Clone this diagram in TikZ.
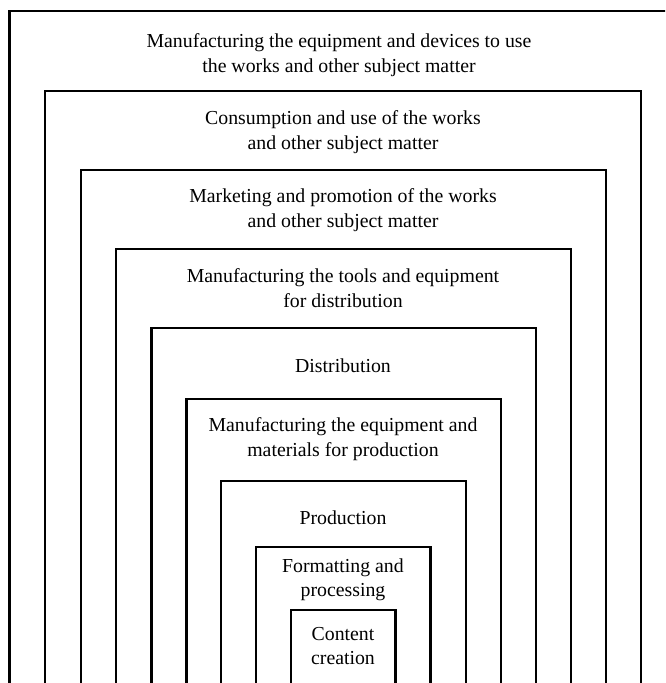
\documentclass[tikz,border=0pt]{standalone}
\usepackage{fontspec}
\setmainfont{Liberation Serif}
\begin{document}
\begin{tikzpicture}[x=1pt,y=-1pt,
  frame/.style={line width=2.6pt,line join=miter},
  lbl/.style={align=center,inner sep=0pt,font=\fontsize{19.8}{24.5}\selectfont}]
\useasboundingbox (0,0) rectangle (665,683);
\clip (0,0) rectangle (665,683);
\fill[white] (0,0) rectangle (665,683);
% nested open-bottom frames: left, top, right
\foreach \l/\t/\r in {9.5/11/676.5, 45/91/641, 81/170/606, 116/249/571, 151.5/328/536, 186.5/399/501, 221/481/466, 256/547/430.5, 291/610/395.5}{
  \draw[frame] (\l,700) -- (\l,\t) -- (\r,\t) -- (\r,700);
}
\node[lbl] (t1) at (339,55) {Manufacturing the equipment and devices to use\\the works and other subject matter};
\node[lbl] (t2) at (343,132) {Consumption and use of the works\\and other subject matter};
\node[lbl] (t3) at (343,210) {Marketing and promotion of the works\\and other subject matter};
\node[lbl] (t4) at (343,288) {Manufacturing the tools and equipment\\for distribution};
\node[lbl] (t5) at (343,366) {Distribution};
\node[lbl] (t6) at (343,439) {Manufacturing the equipment and\\materials for production};
\node[lbl] (t7) at (343,518) {Production};
\node[lbl] (t8) at (343,580) {Formatting and\\processing};
\node[lbl] (t9) at (343,646) {Content\\creation};
\end{tikzpicture}
\end{document}
